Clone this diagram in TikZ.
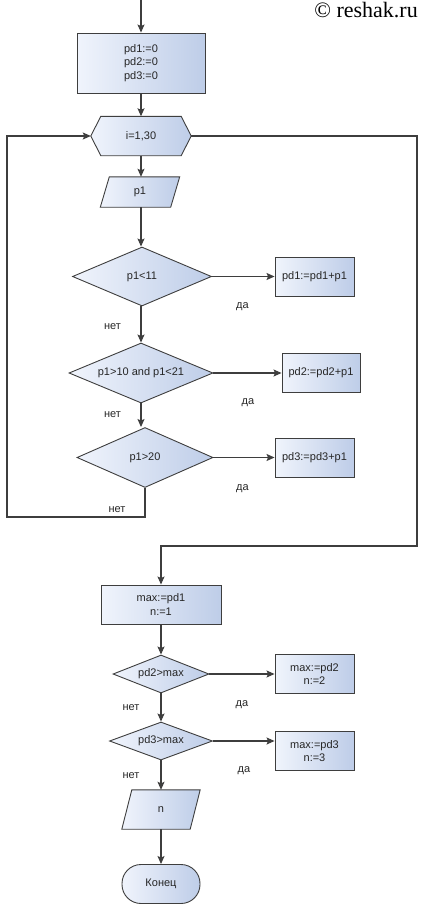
\documentclass[tikz,border=0pt]{standalone}
\usepackage{fontspec}
\setmainfont{Liberation Sans}
\newfontfamily\copyfont{Liberation Serif}
\usetikzlibrary{arrows.meta,shapes.geometric,backgrounds}
\definecolor{boxlight}{RGB}{240,244,252}
\definecolor{boxdark}{RGB}{190,205,232}
\definecolor{linec}{RGB}{62,62,62}
\tikzset{
  fc/.style={font=\fontsize{11}{13.5}\selectfont, text=black!85, inner sep=0pt, align=center},
  fillstyle/.style={draw=linec, line width=0.9pt, left color=boxlight, right color=boxdark},
  procbox/.style={fc, fillstyle, rectangle, minimum height=39pt},
  decision/.style={fc, fillstyle, diamond, aspect=2.4},
  flow/.style={draw=linec, line width=1.1pt, -{Stealth[length=8pt,width=7pt,inset=1.5pt]}},
  lbl/.style={fc},
}
\begin{document}
\begin{tikzpicture}[x=1pt,y=-1pt]
\useasboundingbox (0,0) rectangle (421,908);

\node[font=\copyfont\fontsize{22}{24}\selectfont, anchor=base east, inner sep=0pt] (copy) at (418,17) {© reshak.ru};

\coordinate (top) at (141,0);
\node[procbox, minimum width=128pt, minimum height=60pt] (b1) at (141,63) {pd1:=0\\pd2:=0\\pd3:=0};

% loop hexagon
\node[fc, minimum width=100pt, minimum height=39pt] (loop) at (141,136) {i=1,30};
% input p1
\node[fc, minimum width=70pt, minimum height=30pt] (in1) at (140,192) {p1};

\node[decision, minimum width=139pt, minimum height=59pt] (d1) at (142,276.5) {p1<11};
\node[procbox, minimum width=79pt] (bp1) at (314.5,276.5) {pd1:=pd1+p1};

\node[decision, minimum width=144pt, minimum height=60pt] (d2) at (141,373) {p1>10 and p1<21};
\node[procbox, minimum width=78pt] (bp2) at (321,373) {pd2:=pd2+p1};

\node[decision, minimum width=136pt, minimum height=60pt] (d3) at (145,457.5) {p1>20};
\node[procbox, minimum width=79pt] (bp3) at (314.5,457.5) {pd3:=pd3+p1};

\node[procbox, minimum width=120pt] (bmax) at (161,604.5) {max:=pd1\\n:=1};

\node[decision, minimum width=96pt, minimum height=38pt] (d4) at (161,674) {pd2>max};
\node[procbox, minimum width=79pt] (bm2) at (314.5,674) {max:=pd2\\n:=2};

\node[decision, minimum width=103pt, minimum height=38pt] (d5) at (161,741) {pd3>max};
\node[procbox, minimum width=79pt] (bm3) at (314.5,751) {max:=pd3\\n:=3};

\node[fc, minimum width=68pt, minimum height=39pt] (outn) at (161,809.5) {n};

\node[procbox, minimum width=78pt, rounded corners=19pt] (end) at (161,884) {Конец};

\begin{scope}[on background layer]
  \path[fillstyle] (loop.west) -- ([xshift=10pt]loop.north west) -- ([xshift=-10pt]loop.north east)
     -- (loop.east) -- ([xshift=-10pt]loop.south east) -- ([xshift=10pt]loop.south west) -- cycle;
  \path[fillstyle] ([xshift=4.5pt]in1.north west) -- ([xshift=4.5pt]in1.north east)
     -- ([xshift=-4.5pt]in1.south east) -- ([xshift=-4.5pt]in1.south west) -- cycle;
  \path[fillstyle] ([xshift=5pt]outn.north west) -- ([xshift=5pt]outn.north east)
     -- ([xshift=-5pt]outn.south east) -- ([xshift=-5pt]outn.south west) -- cycle;
\end{scope}

% connectors
\draw[flow] (top) -- (b1.north);
\draw[flow] (b1.south) -- (b1.south |- loop.north);
\draw[flow] (loop.south) -- (loop.south |- in1.north);
\draw[flow] (in1.south -| loop.south) -- (loop.south |- d1.north);
\draw[flow] (d1.east) -- (bp1.west);
\draw[flow] (d1.south -| loop.south) -- (d2.north);
\draw[flow] (d2.east) -- (bp2.west);
\draw[flow] (d2.south) -- (d2.south |- d3.north);
\draw[flow] (d3.east) -- (bp3.west);

\coordinate (lb) at (7,517);
\draw[flow] (d3.south) |- (lb) |- (loop.west);
\coordinate (rt) at (417,546);
\draw[flow] (loop.east) -| (rt) -| (bmax.north);

\draw[flow] (bmax.south) -- (d4.north);
\draw[flow] (d4.east) -- (bm2.west);
\draw[flow] (d4.south) -- (d5.north);
\draw[flow] (d5.east) -- (d5.east -| bm3.west);
\draw[flow] (d5.south) -- (outn.north);
\draw[flow] (outn.south) -- (end.north);

% labels
\node[lbl] (y1) at (242.5,307) {да};
\node[lbl] (n1) at (112.5,327) {нет};
\node[lbl] (y2) at (248,403) {да};
\node[lbl] (n2) at (112.5,415) {нет};
\node[lbl] (y3) at (242.5,489) {да};
\node[lbl] (n3) at (117,510) {нет};
\node[lbl] (y4) at (242,705) {да};
\node[lbl] (n4) at (131,707.5) {нет};
\node[lbl] (y5) at (244,771) {да};
\node[lbl] (n5) at (131,776) {нет};
\end{tikzpicture}
\end{document}
